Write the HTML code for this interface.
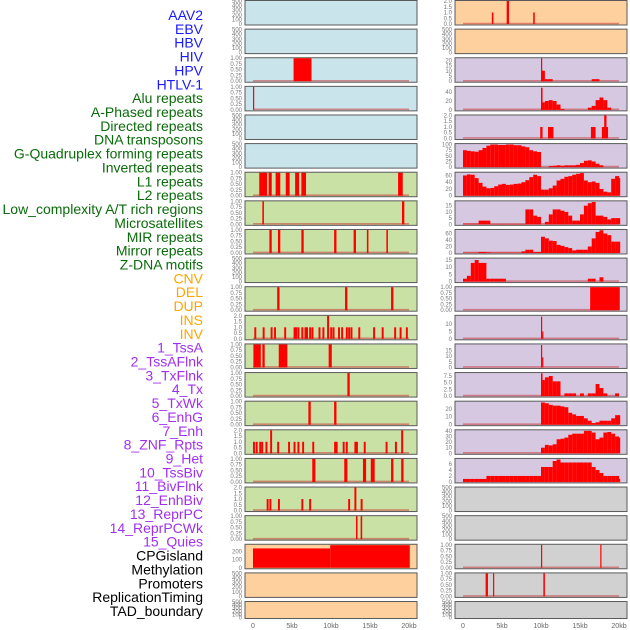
<!DOCTYPE html>
<html><head><meta charset="utf-8">
<style>
html,body{margin:0;padding:0;background:#fff;}
svg{display:block;font-family:"Liberation Sans",sans-serif;}
</style></head>
<body>
<svg id="chart" width="630" height="630" viewBox="0 0 630 630"></svg>
<script>
// ---------- labels ----------
const trackLabels = ["AAV2","EBV","HBV","HIV","HPV","HTLV-1","Alu repeats","A-Phased repeats","Directed repeats","DNA transposons","G-Quadruplex forming repeats","Inverted repeats","L1 repeats","L2 repeats","Low_complexity A/T rich regions","Microsatellites","MIR repeats","Mirror repeats","Z-DNA motifs","CNV","DEL","DUP","INS","INV","1_TssA","2_TssAFlnk","3_TxFlnk","4_Tx","5_TxWk","6_EnhG","7_Enh","8_ZNF_Rpts","9_Het","10_TssBiv","11_BivFlnk","12_EnhBiv","13_ReprPC","14_ReprPCWk","15_Quies","CPGisland","Methylation","Promoters","ReplicationTiming","TAD_boundary"];
const labelGroups = [6,13,5,15,5];
const xTickValues = [0,5,10,15,20];
const xTickLabels = ["0","5kb","10kb","15kb","20kb"];

// ---------- left column data (blocks: [startKb,endKb,value]) ----------
const leftHIV = [[5.2,7.5,1]];
const leftHPV = [[0,0.15,1]];
const leftL1 = [[0.8,1.8,1],[2.0,2.4,1],[2.9,3.5,1],[4.2,4.7,1],[5.4,5.9,1],[6.2,6.8,1],[18.6,19.2,1]];
const leftL2 = [[1.2,1.4,1],[19.1,19.4,1]];
const leftMIR = [[2.1,2.4,1],[3.2,3.5,1],[6.2,6.5,1],[10.4,10.7,1],[12.9,13.2,1],[14.6,14.8,1],[17.1,17.3,1]];
const leftMirror = [[3.1,3.4,1],[11.8,12.1,1],[17.7,18.0,1]];
const leftInvPos = [0.17,1.24,2.26,2.7,4.0,5.2,5.4,5.7,6.2,6.6,6.8,7.2,7.5,8.4,8.9,9.5,9.9,10.2,10.9,11.3,11.9,12.2,12.5,13.5,15.4,16.5,18.1,18.8,19.6];
const leftInvVal = [1,1,1,1,1,1,1,1,1,1,1,1,1,1,1,2,1,1,1,1,1,1,1,1,1,1,1,1,1];
const leftTssA = [[0.05,1.0,1],[1.2,1.5,1],[3.3,4.4,1],[9.7,10.1,1]];
const leftTssAFlnk = [[12.1,12.4,1]];
const leftTxFlnk = [[7.1,7.4,1],[10.4,10.7,1]];
const leftTxPos = [0,0.35,0.8,1.05,1.6,2.2,3.1,4.5,5.2,5.7,6.3,7.6,10.4,10.6,11.5,11.9,13.0,13.2,14.2,17.0,18.2,19.0];
const leftTxVal = [1,1,1,1,1,2,1,1,1,1,1,1,1,1,1,1,1,1,1,1,1,2];
const leftTxWk = [[7.6,8.0,1],[11.7,12.1,1],[14.1,14.5,1],[15.1,15.6,1],[17.7,18.0,1],[19.0,19.3,1]];
const leftEnhGPos = [1.75,2.1,3.2,6.2,7.2,12.2,13.0,13.8];
const leftEnhGVal = [1,1,1,1,1,1,2,1];
const leftEnh = [[13.2,13.4,1],[13.8,14.0,1]];
const leftCPG = [[0,9.9,240],[9.9,20.1,280]];

// ---------- right column data ----------
const rightAAV2 = [[3.7,3.9,1],[5.6,5.9,2],[9.0,9.2,1]];
// 0.5kb bins starting at 0kb
const rightHIV = [0,0,0,0,0,0,0,0,0,0,0,0,0,0,0,0,0,0,0,0,10,2,2,0,0,0,0,0,0,0,0,0,0,2,2,0,0,0,0,0,0];
const rightHIVSpike = [[10.0,10.15,22],[10.15,10.3,10],[10.3,10.45,5]];
const rightHPV = [0,0,0,0,0,0,0,0,0,0,0,0,0,0,0,0,0,0,0,0,17,20,22,20,12,2,0,0,0,0,0,0,5,9,22,28,22,5,0,0,0];
const rightHPVSpike = [[10.0,10.2,50]];
const rightAlu = [[9.9,10.2,1],[10.9,11.6,1],[16.4,17.0,1],[17.8,18.6,1],[18.1,18.4,2]];
const rightAPhased = [75,72,70,68,75,85,95,100,100,98,98,100,100,97,97,92,88,75,70,67,0,0,5,6,8,6,8,8,8,10,18,28,30,25,15,8,0,0,0,0,0];
const rightDirected = [60,63,62,52,38,27,22,23,28,33,35,32,33,35,36,40,46,55,62,58,18,18,22,30,45,50,56,58,62,65,67,45,40,42,38,20,12,10,50,58,52];
const rightDNATrans = [0.5,0.5,0.5,0.5,3,3,3,0.3,0.3,0.3,0.3,0.3,0.3,0.3,0.3,0.3,12,12,7,6,0,2,8,12,12,11,10,7,3,3,8,15,17,18,7,7,6,4,5,5,5];
const rightGQuad = [1,1,1,1,3,3,2,1,1,1,1,1,1,1,1,5,10,10,3,3,50,45,38,37,25,22,18,15,8,10,10,10,20,45,65,70,60,55,35,35,35];
const rightInverted = [2,4,13,15,13,13,2,2,2,2,2,0,0,0,0,0,0,0,0,0,0,0,0,0,0,0,0,0,0,0,0,0,2,2,0,3,0,0,0,0,0];
const rightL1 = [[16.3,20.1,1]];
const rightL2Spike = [[10.0,10.15,15],[10.15,10.3,5]];
const rightLowSpike = [[10.0,10.15,20],[10.15,10.3,9]];
const rightMicro = [0,0,0,0,0,0,0,0,0,0,0,0,0,0,0,0,0,0,0,0,6,7,7.5,5.5,5.5,0,1,1,1,0,1,0,1,1,4.5,3,1,0,0,1,0];
const rightMicroSpike = [[10.0,10.2,8.5]];
const rightMIR = [0,0,0,0,0,0,0,0,0,0,0,0,0,0,0,0,0,0,0,0,28,27,25,24,24,23,22,15,13,11,11,8,5,2,3,5,5,5,8,12,12];
const rightMirror = [0,0,0,0,0,0,0,0,0,0,0,0,0,0,0,0,0,0,0,0,10,15,14,16,25,26,28,33,35,35,35,40,40,37,25,28,37,38,35,30,28];
const rightZDNA = [1,1,1,1,1,1,2,2,2,2,2,2,2,2,2,2,2,2,2,2,5,5,5,7,7.5,6.5,6.5,6.5,6.5,6.5,6.5,6.5,6.5,5,4,3,2,2,2,2,1];
const rightCNV = [[10.0,10.15,1],[17.6,17.75,1]];
const rightDEL = [[2.9,3.2,1],[3.85,4.0,1],[10.3,10.5,1]];

// ---------- panel definitions ----------
// kind: 'empty' | 'blocks' | 'bins' | 'spikes'
const leftPanels = [
 {bg:'#c9e4eb',kind:'empty'},
 {bg:'#c9e4eb',kind:'empty'},
 {bg:'#c9e4eb',kind:'blocks',blocks:leftHIV,ymax:1,ticks:'q'},
 {bg:'#c9e4eb',kind:'blocks',blocks:leftHPV,ymax:1,ticks:'q'},
 {bg:'#c9e4eb',kind:'empty'},
 {bg:'#c9e4eb',kind:'empty'},
 {bg:'#c9e1a4',kind:'blocks',blocks:leftL1,ymax:1,ticks:'q'},
 {bg:'#c9e1a4',kind:'blocks',blocks:leftL2,ymax:1,ticks:'q'},
 {bg:'#c9e1a4',kind:'blocks',blocks:leftMIR,ymax:1,ticks:'q'},
 {bg:'#c9e1a4',kind:'empty'},
 {bg:'#c9e1a4',kind:'blocks',blocks:leftMirror,ymax:1,ticks:'q'},
 {bg:'#c9e1a4',kind:'spikes',pos:leftInvPos,vals:leftInvVal,ymax:2,ticks:'h'},
 {bg:'#c9e1a4',kind:'blocks',blocks:leftTssA,ymax:1,ticks:'q'},
 {bg:'#c9e1a4',kind:'blocks',blocks:leftTssAFlnk,ymax:1,ticks:'q'},
 {bg:'#c9e1a4',kind:'blocks',blocks:leftTxFlnk,ymax:1,ticks:'q'},
 {bg:'#c9e1a4',kind:'spikes',pos:leftTxPos,vals:leftTxVal,ymax:2,ticks:'h'},
 {bg:'#c9e1a4',kind:'blocks',blocks:leftTxWk,ymax:1,ticks:'q'},
 {bg:'#c9e1a4',kind:'spikes',pos:leftEnhGPos,vals:leftEnhGVal,ymax:2,ticks:'h'},
 {bg:'#c9e1a4',kind:'blocks',blocks:leftEnh,ymax:1,ticks:'q'},
 {bg:'#fed09e',kind:'blocks',blocks:leftCPG,ymax:285,ticks:[0,100,200],noBase:true},
 {bg:'#fed09e',kind:'empty'},
 {bg:'#fed09e',kind:'empty'}
];
const rightPanels = [
 {bg:'#fed09e',kind:'blocks',blocks:rightAAV2,ymax:2,ticks:'h1'},
 {bg:'#fed09e',kind:'empty'},
 {bg:'#d7c8e2',kind:'bins',bins:rightHIV,extra:rightHIVSpike,ymax:22,ticks:[0,5,10,15,20]},
 {bg:'#d7c8e2',kind:'bins',bins:rightHPV,extra:rightHPVSpike,ymax:52,ticks:[0,20,40]},
 {bg:'#d7c8e2',kind:'blocks',blocks:rightAlu,ymax:2,ticks:'h1'},
 {bg:'#d7c8e2',kind:'bins',bins:rightAPhased,ymax:102,ticks:[0,25,50,75,100]},
 {bg:'#d7c8e2',kind:'bins',bins:rightDirected,ymax:68,ticks:[0,20,40,60]},
 {bg:'#d7c8e2',kind:'bins',bins:rightDNATrans,ymax:18.5,ticks:[0,5,10,15]},
 {bg:'#d7c8e2',kind:'bins',bins:rightGQuad,ymax:71,ticks:[0,20,40,60]},
 {bg:'#d7c8e2',kind:'bins',bins:rightInverted,ymax:16,ticks:[0,5,10,15]},
 {bg:'#d7c8e2',kind:'blocks',blocks:rightL1,ymax:1,ticks:'q'},
 {bg:'#d7c8e2',kind:'blocks',blocks:rightL2Spike,ymax:15.5,ticks:[0,5,10]},
 {bg:'#d7c8e2',kind:'blocks',blocks:rightLowSpike,ymax:20.5,ticks:[0,5,10,15]},
 {bg:'#d7c8e2',kind:'bins',bins:rightMicro,extra:rightMicroSpike,ymax:8.6,ticks:[0,2.5,5,7.5],fmt:1},
 {bg:'#d7c8e2',kind:'bins',bins:rightMIR,ymax:29,ticks:[0,10,20]},
 {bg:'#d7c8e2',kind:'bins',bins:rightMirror,ymax:41,ticks:[0,10,20,30,40]},
 {bg:'#d7c8e2',kind:'bins',bins:rightZDNA,ymax:7.7,ticks:[0,2,4,6]},
 {bg:'#d1d1d1',kind:'empty'},
 {bg:'#d1d1d1',kind:'empty'},
 {bg:'#d1d1d1',kind:'blocks',blocks:rightCNV,ymax:1,ticks:'q'},
 {bg:'#d1d1d1',kind:'blocks',blocks:rightDEL,ymax:1,ticks:'q'},
 {bg:'#d1d1d1',kind:'empty'}
];

const NS = 'http://www.w3.org/2000/svg';
const svg = document.getElementById('chart');
function mk(tag, attrs, parent){
  const e = document.createElementNS(NS, tag);
  for (const k in attrs) e.setAttribute(k, attrs[k]);
  (parent||svg).appendChild(e);
  return e;
}

// labels
const groupColors = ['#1a1aff','#0a6b0a','#ffa500','#a030f0','#000000'];
let gi = 0, gc = 0;
trackLabels.forEach((t,i)=>{
  const el = mk('text',{x:203,y:15+i*13.86+5,'text-anchor':'end','font-size':'14',fill:groupColors[gi]});
  el.textContent = t;
  
  
  gc++; if (gc >= labelGroups[gi]) { gi++; gc = 0; }
});

const ROW = 28.62;
function drawPanel(p, idx, left, side){
  const top = idx*ROW + 0.5;
  const h = idx === 21 ? 17 : 24.5;
  const w = 172;
  const g = mk('g',{});
  
  
  mk('rect',{x:left,y:top,width:w,height:h,fill:p.bg,stroke:'#5a5a5a','stroke-width':1},g);
  const x = kb => left + 8 + kb*7.8;
  const zeroY = top + h - 1;
  const topY = top + 0.5;
  const ymax = p.kind === 'empty' ? 500 : p.ymax;
  const y = v => zeroY - v/ymax*(zeroY-topY);
  // ticks
  let ticks, fmt = v=>String(v);
  if (p.kind === 'empty') ticks = [0,100,200,300,400,500];
  else if (p.ticks === 'q') { ticks=[0,0.25,0.5,0.75,1]; fmt=v=>v.toFixed(2); }
  else if (p.ticks === 'h') { ticks=[0,0.5,1,1.5,2]; fmt=v=>v.toFixed(1); }
  else if (p.ticks === 'h1') { ticks=[0,0.5,1,1.5,2]; fmt=v=>v.toFixed(1); }
  else { ticks = p.ticks; if (p.fmt) fmt=v=>v.toFixed(1); }
  ticks.forEach(v=>{
    const t = mk('text',{x:left-3,y:y(v)+2,'text-anchor':'end','font-size':'6',fill:'#777'},g);
    t.textContent = fmt(v);
    
    
  });
  if (p.kind === 'empty') return;
  if (!p.noBase) {
    const b = mk('line',{x1:x(0),x2:x(20),y1:zeroY-0.5,y2:zeroY-0.5,stroke:'rgba(200,60,60,0.55)','stroke-width':1.6},g);
    
    
  }
  const bar = (s,e,v)=>{
    if (v<=0) return;
    const r = mk('rect',{x:x(s),y:y(v),width:Math.max(1.2,x(e)-x(s)),height:zeroY-y(v),fill:'#ff0000'},g);
    
    
  };
  if (p.kind === 'blocks') p.blocks.forEach(b=>bar(b[0],b[1],b[2]));
  if (p.kind === 'spikes') p.pos.forEach((s,i)=>bar(s,s+0.25,p.vals[i]));
  if (p.kind === 'bins') {
    p.bins.forEach((v,i)=>bar(i*0.5, i*0.5+0.5 > 20.1 ? 20.1 : i*0.5+0.5, v));
    if (p.extra) p.extra.forEach(b=>bar(b[0],b[1],b[2]));
  }
}
leftPanels.forEach((p,i)=>drawPanel(p,i,245,'left'));
rightPanels.forEach((p,i)=>drawPanel(p,i,455,'right'));

// x axes
[253,463].forEach((x0,ci)=>{
  xTickValues.forEach((v,i)=>{
    const t = mk('text',{x:x0+v*7.8,y:628,'text-anchor':'middle','font-size':'7',fill:'#666'});
    t.textContent = xTickLabels[i];
    
    
  });
});
</script>
</body></html>
